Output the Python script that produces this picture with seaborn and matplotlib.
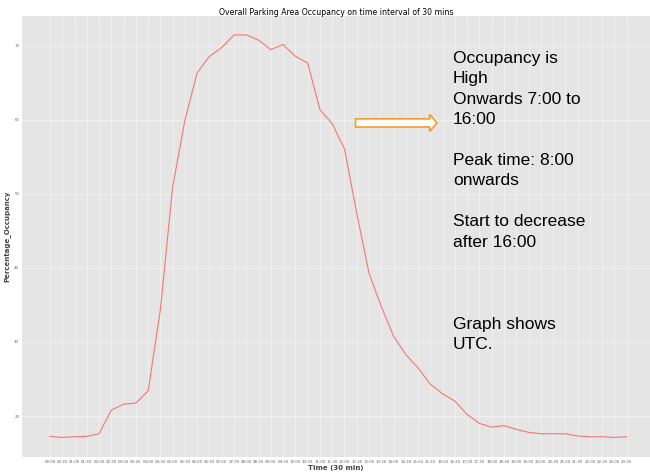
import pandas as pd
import matplotlib.pyplot as plt
import seaborn as sns

# half-hour slots 00:00 .. 23:30
times = ["00:00", "00:30", "01:00", "01:30", "02:00", "02:30", "03:00", "03:30",
         "04:00", "04:30", "05:00", "05:30", "06:00", "06:30", "07:00", "07:30",
         "08:00", "08:30", "09:00", "09:30", "10:00", "10:30", "11:00", "11:30",
         "12:00", "12:30", "13:00", "13:30", "14:00", "14:30", "15:00", "15:30",
         "16:00", "16:30", "17:00", "17:30", "18:00", "18:30", "19:00", "19:30",
         "20:00", "20:30", "21:00", "21:30", "22:00", "22:30", "23:00", "23:30"]
occupancy = [17.25, 17.1, 17.2, 17.25, 17.6, 20.8, 21.6, 21.75,
             23.4, 34.4, 51.0, 60.0, 66.4, 68.6, 69.8, 71.5,
             71.5, 70.8, 69.5, 70.2, 68.6, 67.7, 61.4, 59.5,
             56.1, 47.4, 39.3, 34.8, 30.8, 28.3, 26.5, 24.3,
             23.0, 22.0, 20.2, 19.0, 18.5, 18.7, 18.2, 17.8,
             17.6, 17.6, 17.6, 17.3, 17.2, 17.2, 17.1, 17.2]
y_ticks = [20, 30, 40, 50, 60, 70]

df = pd.DataFrame({"Time": times, "Percentage_Occupancy": occupancy})
df["slot"] = range(len(df))

sns.set_style("darkgrid", {"axes.facecolor": "#E5E5E5", "grid.color": "#F2F2F2"})
plt.rcParams["font.family"] = ["DejaVu Sans"]

fig = plt.figure(figsize=(6.5, 4.72), dpi=100)
ax = fig.add_axes([22 / 650, 15 / 472, 628 / 650, 441 / 472])

sns.lineplot(data=df, x="slot", y="Percentage_Occupancy", color="#F8766D", linewidth=0.8, ax=ax)

ax.set_xlim(-2.28, 48.9)
ax.set_ylim(14.46, 74.05)
ax.set_xticks(df["slot"])
ax.set_xticklabels(times, fontsize=2.8, color="#666666")
ax.set_yticks(y_ticks)
ax.set_yticklabels([str(v) for v in y_ticks], fontsize=2.8, color="#666666")
ax.tick_params(length=0, pad=2)
ax.grid(linewidth=0.6)
for s in ax.spines.values():
    s.set_visible(False)

ax.set_xlabel("Time (30 min)", fontsize=5, fontweight="bold", color="#444444", labelpad=1)
ax.set_ylabel("Percentage_Occupancy", fontsize=5, fontweight="bold", color="#444444", labelpad=3)
fig.text(0.517, 0.973, "Overall Parking Area Occupancy on time interval of 30 mins",
         ha="center", va="center", fontsize=5.6, color="black")

# outlined arrow pointing to the notes
ax.arrow(24.9, 59.6, 6.64, 0, width=1.1, head_width=2.3, head_length=0.6,
         length_includes_head=True, facecolor="white", edgecolor="#F39C2C", linewidth=1.2)

notes = ("Occupancy is\nHigh\nOnwards 7:00 to\n16:00\n\n"
         "Peak time: 8:00\nonwards\n\nStart to decrease\nafter 16:00")
fig.text(453 / 650, 1 - 51 / 472, notes, ha="left", va="top", fontsize=12.5,
         family="Liberation Sans", linespacing=1.45, color="black")
fig.text(453 / 650, 1 - 317 / 472, "Graph shows\nUTC.", ha="left", va="top", fontsize=12.5,
         family="Liberation Sans", linespacing=1.45, color="black")

fig.savefig("out.png", dpi=100)
